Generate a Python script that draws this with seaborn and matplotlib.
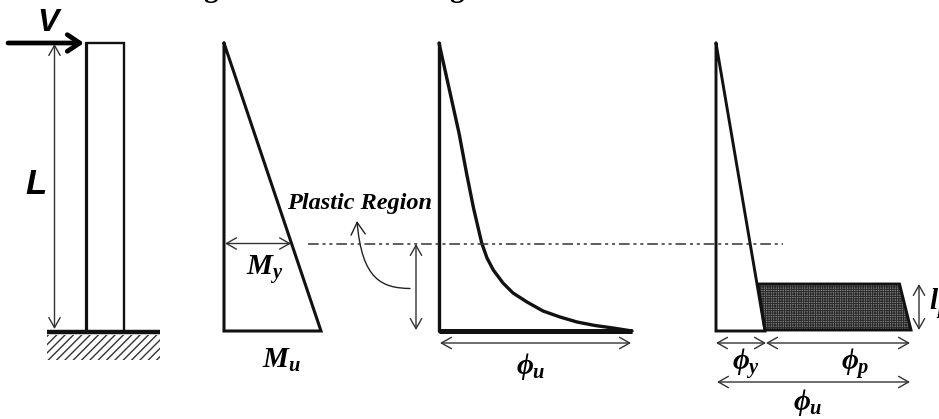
import matplotlib
matplotlib.use("Agg")
import matplotlib.pyplot as plt
import seaborn as sns
import pandas as pd
from matplotlib.patches import Polygon, Rectangle, FancyArrowPatch
from matplotlib.path import Path

sns.set_theme(style="white")
plt.rcParams["mathtext.fontset"] = "custom"
plt.rcParams["mathtext.it"] = "Liberation Serif:italic:bold"
plt.rcParams["mathtext.rm"] = "Liberation Serif:italic:bold"
plt.rcParams["mathtext.bf"] = "Liberation Serif:italic:bold"
plt.rcParams["mathtext.default"] = "it"

# Column elevation
column_x = [124, 124, 85.5]
column_y = [332, 43, 43]
column_left_x = [85.5, 85.5]
column_left_y = [42, 332]
ground_x = [47, 160]
ground_y = [332, 332]

# Moment diagram
moment_x = [224, 224, 321, 224]
moment_y = [43, 331, 331, 43]

# Actual curvature
curv_x = [439, 449, 459, 466.5, 473.5, 481.7, 487, 493.3, 503, 513, 527, 543, 560, 577, 595, 613, 632]
curv_y = [43, 88, 133, 173, 208, 243, 258, 270, 283, 293, 302, 311, 317, 322, 325.5, 328, 331]
curv_base_x = [439, 439, 632]
curv_base_y = [43, 331, 331]

# Idealised curvature
ideal_x = [716, 716, 765, 716]
ideal_y = [43, 331, 331, 43]
plastic_x = [758, 899.5, 911, 765]
plastic_y = [284, 284, 330, 330]

# Yield level line
yield_x = [308, 783]
yield_y = [243.5, 243.5]

df = pd.DataFrame({"x": curv_x, "y": curv_y})

fig = plt.figure(figsize=(9.39, 4.19), dpi=100)
ax = fig.add_axes([0, 0, 1, 1])
ax.set_xlim(0, 939)
ax.set_ylim(419, 0)
ax.axis("off")

K = "#111111"
plt.rcParams["hatch.linewidth"] = 1.0
ax.add_patch(Rectangle((47, 335), 113, 25, facecolor="white", edgecolor="#333333", hatch="////", lw=0))
ax.plot(column_x, column_y, color=K, lw=1.7, solid_joinstyle="miter")
ax.plot(column_left_x, column_left_y, color=K, lw=2.3, solid_capstyle="butt")
ax.plot(ground_x, ground_y, color=K, lw=3.2, solid_capstyle="butt")

ax.plot(moment_x, moment_y, color=K, lw=2.2, solid_joinstyle="miter")
sns.lineplot(data=df, x="x", y="y", ax=ax, color=K, lw=2.4, sort=False, estimator=None)
ax.plot(curv_base_x[:2], curv_base_y[:2], color=K, lw=2.4)
ax.plot(curv_base_x[1:], curv_base_y[1:], color=K, lw=3.6, solid_capstyle="butt")
ax.plot(ideal_x, ideal_y, color=K, lw=2.1, solid_joinstyle="miter")

plt.rcParams["hatch.linewidth"] = 0.7
ax.add_patch(Polygon(list(zip(plastic_x, plastic_y)), closed=True, facecolor="#808080",
                     edgecolor="#2a2a2a", hatch="+++++++", lw=0))
ax.add_patch(Polygon(list(zip(plastic_x, plastic_y)), closed=True, facecolor="none", edgecolor=K, lw=2.1))

ax.plot(yield_x, yield_y, color="#333333", lw=1.1, linestyle=(0, (7, 2.5, 2, 2.5, 2, 2.5)))


def dim(x0, y0, x1, y1, style="<->", lw=1.0, hl=0.6, hw=0.34):
    ax.annotate("", xy=(x1, y1), xytext=(x0, y0),
                arrowprops=dict(arrowstyle=f"{style},head_length={hl},head_width={hw}",
                                color="#333333", lw=lw, shrinkA=0, shrinkB=0))


ax.annotate("", xy=(84, 43), xytext=(8, 43),
            arrowprops=dict(arrowstyle="->,head_length=0.75,head_width=0.5", color="black",
                            lw=3.4, shrinkA=0, shrinkB=0))
dim(54.5, 44, 54.5, 329)
dim(225, 243.5, 291, 243.5)
dim(416, 244, 416, 330)
dim(440, 343, 631, 343)
dim(716, 343, 766, 343)
dim(766, 343, 910, 343)
dim(717, 382, 910, 382)
dim(919, 284, 919, 330)

curve = Path([(410, 288.5), (382, 288), (362, 280), (357, 221)],
             [Path.MOVETO, Path.CURVE4, Path.CURVE4, Path.CURVE4])
ax.add_patch(FancyArrowPatch(path=curve, arrowstyle="->,head_length=5.5,head_width=3.2",
                             color="#222222", lw=1.0, mutation_scale=1.6))

SANS = dict(family="Liberation Sans", weight="bold", style="italic", color="black", ha="center", va="center")
SERIF = dict(family="Liberation Serif", weight="bold", style="italic", color="black", ha="center", va="center")

ax.text(48, 23, "V", fontsize=23, **SANS)
ax.text(36, 184, "L", fontsize=25, **SANS)
ax.text(360, 203, "Plastic Region", fontsize=17.5, **SERIF)

ax.text(265, 269, r"$M_{y}$", fontsize=21, **SERIF)
ax.text(281, 360, r"$M_{u}$", fontsize=21, **SERIF)
ax.text(531, 366, r"$\phi_{u}$", fontsize=21, **SERIF)
ax.text(746, 364, r"$\phi_{y}$", fontsize=21, **SERIF)
ax.text(855, 364, r"$\phi_{p}$", fontsize=21, **SERIF)
ax.text(808, 402, r"$\phi_{u}$", fontsize=21, **SERIF)
ax.text(929, 304, r"$l_{p}$", fontsize=21, family="Liberation Serif", color="black", ha="left", va="center")

# Descenders of a heading cut off by the top edge
ax.text(210, 3, "g", fontsize=21, family="Liberation Serif", weight="bold", color="black", ha="center", va="bottom")
ax.text(457, 3, "g", fontsize=21, family="Liberation Serif", weight="bold", color="black", ha="center", va="bottom")

fig.savefig("out.png", dpi=100)
